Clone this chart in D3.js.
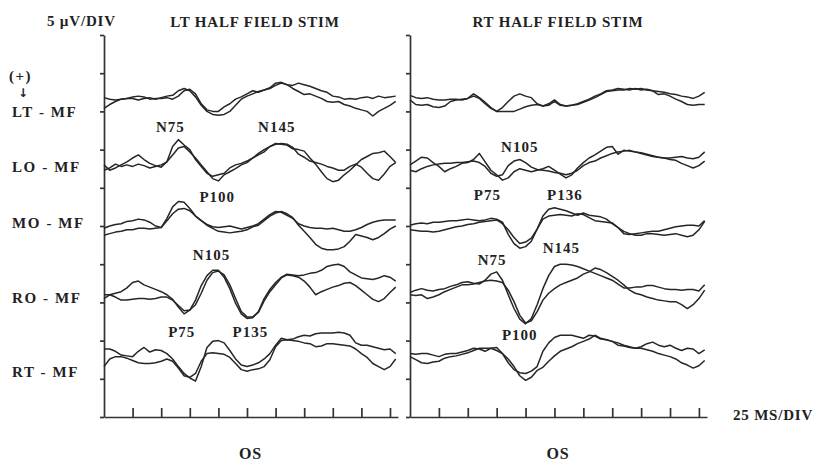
<!DOCTYPE html>
<html>
<head>
<meta charset="utf-8">
<script src="https://cdn.jsdelivr.net/npm/d3@7"></script>
<style>
  body { margin: 0; background: #fff; }
  svg text { font-family: "Liberation Serif", "DejaVu Serif", serif; font-weight: bold; fill: #222; letter-spacing: 0.8px; }
</style>
</head>
<body>
<svg width="817" height="465"></svg>
<script>
// VEP traces, 5 ms sampling, deflection in µV (positive plotted downward)
var channels = ["LT - MF", "LO - MF", "MO - MF", "RO - MF", "RT - MF"];
var panels = ["LT HALF FIELD STIM", "RT HALF FIELD STIM"];
var sampleMs = 5;

var leftLT1 = [-0.8,-0.6,-0.5,-0.6,-0.7,-0.9,-1.0,-0.9,-0.6,-0.7,-0.7,-0.8,-0.6,-1.0,-1.7,-1.9,-1.3,0,0.8,1.0,1.0,0.4,0,-0.6,-0.9,-1.3,-1.7,-1.5,-1.8,-2.0,-2.4,-2.7,-2.5,-2.4,-2.7,-2.5,-2.3,-2.0,-1.7,-1.5,-1.0,-0.9,-0.6,-0.7,-0.6,-0.8,-0.9,-0.7,-1.0,-0.8,-0.9,-1.0];
var leftLT2 = [0.6,0.1,-0.3,-0.6,-0.7,-0.7,-0.5,-0.7,-0.8,-0.6,-0.8,-1.0,-1.1,-1.7,-2.0,-1.7,-0.9,0.2,1.0,1.4,1.5,1.4,1.0,0.2,-0.6,-1.0,-1.3,-1.6,-1.8,-2.1,-2.7,-2.8,-2.5,-2.0,-1.6,-1.2,-1.3,-1.0,-0.7,-0.3,-0.2,-0.3,0.1,0.3,0.6,0.8,1.0,1.6,1.0,0.6,0.2,-0.3];
var leftLO1 = [0,0.7,0.4,0,-0.4,-0.9,-1.3,-0.7,-0.2,0.1,0.3,-0.4,-2.4,-3.3,-2.6,-2.0,-0.7,0.2,1.1,1.5,1.3,1.1,0.4,0,-0.2,-0.5,-0.9,-1.5,-2.0,-2.4,-2.7,-2.8,-2.7,-2.3,-1.4,-1.0,-0.5,-0.3,-0.1,0.2,0.4,0.7,0.7,0.2,-0.1,0.3,1.1,1.8,2.0,1.2,0.2,-0.3];
var leftLO2 = [0.7,0.4,-0.1,0.2,0,0.2,-0.1,0.1,0.4,0.2,0,-0.4,-1.3,-2.2,-2.4,-1.7,-0.9,0,0.9,1.8,2.1,1.3,0.9,0.5,0,-0.3,-0.9,-1.3,-1.7,-2.4,-2.8,-2.7,-2.6,-2.1,-2.0,-1.8,-0.9,-0.1,0.9,1.8,2.2,2.0,1.3,0.7,0,-0.7,-1.1,-1.5,-1.6,-1.8,-1.1,-0.3];
var leftMO1 = [0.3,0,-0.2,-0.3,-0.6,-0.7,-0.9,-0.8,-0.5,0,0.2,-1.0,-2.5,-3.2,-3.1,-2.3,-1.3,-0.7,-0.2,0.1,0.2,0.1,0,0.2,0.4,0.2,0,-0.3,-0.9,-1.5,-1.9,-1.8,-1.4,-1.0,-0.3,0,0.2,0.3,0.3,0.4,0.3,0.5,0.7,0.7,0.5,0.2,-0.2,-0.5,-0.7,-0.8,-0.8,-0.8];
var leftMO2 = [1.2,1.0,0.8,0.7,0.5,0.5,0.3,0.3,0.4,0.3,0.2,-0.7,-1.6,-2.2,-2.3,-2.0,-1.3,-0.7,-0.1,0.3,0.7,0.8,0.9,0.8,0.7,0.5,0.1,-0.1,-0.7,-1.3,-1.7,-1.9,-1.6,-1.1,-0.1,0.7,1.5,2.4,2.9,3.1,3.1,3.0,2.7,2.0,1.1,1.3,1.5,1.8,1.5,1.0,0.4,0];
var leftRO1 = [0,0,-0.2,-0.4,-0.9,-1.6,-1.8,-1.3,-1.0,-0.7,-0.4,0,0.6,1.6,2.5,2.0,0.7,-1.2,-2.5,-3.2,-3.2,-2.3,-0.8,1.1,2.5,3.1,3.0,2.2,0.5,-0.7,-1.6,-2.3,-2.7,-2.6,-2.5,-2.6,-2.8,-2.9,-3.2,-3.7,-3.9,-4.0,-3.7,-3.0,-2.6,-2.2,-2.1,-2.0,-2.2,-2.5,-2.3,-1.8];
var leftRO2 = [0.5,0,0.3,0.7,0.7,0.6,0.5,0.5,0.6,0.5,0.3,0.3,0.7,1.4,2.1,2.0,1.3,-0.2,-1.9,-2.9,-3.1,-2.6,-1.3,0.5,2.2,2.9,2.9,2.3,0.8,-0.4,-1.3,-2.2,-2.6,-2.5,-2.3,-1.8,-1.0,0,-0.4,-0.7,-1.0,-1.2,-1.5,-1.6,-1.2,-0.6,0,0.6,0.9,0.5,-0.3,-1.0];
var leftRT1 = [-0.9,-0.9,-0.6,-0.1,0,0.1,-0.6,-1.1,-0.5,-0.8,-0.7,-0.3,0.4,1.4,2.3,2.9,3.3,1.4,-1.1,-1.9,-2.0,-1.7,-0.7,0.4,1.2,1.4,1.2,0.9,0.4,-0.3,-1.4,-2.3,-2.1,-2.2,-2.5,-2.7,-2.6,-2.9,-3.0,-3.0,-3.0,-3.1,-3.0,-2.7,-1.7,-1.4,-1.4,-1.2,-1.0,-0.8,-0.9,-0.3];
var leftRT2 = [1.4,0.4,0.1,0.1,0.3,0.6,0.9,1.0,1.0,0.9,0.7,0.4,0.7,1.6,2.6,2.8,2.3,0.7,-0.3,-0.4,-0.3,-0.2,0.2,1.0,1.8,2.0,1.8,1.7,1.4,0.5,-1.2,-2.0,-2.1,-2.0,-1.9,-1.7,-1.6,-1.2,-1.3,-1.6,-1.6,-1.5,-1.4,-1.3,-0.9,-0.3,0.2,1.0,1.4,1.8,1.4,0.4];

var rightLT1 = [-1.1,-0.8,-0.7,-0.8,-0.6,-0.5,-0.5,-0.6,-0.6,-0.5,-0.7,-1.3,-0.8,-0.2,0.5,1.0,0.5,-0.3,-1.0,-1.3,-1.0,-0.8,0,0.3,0.2,-0.3,0.2,0.3,0.2,0.1,-0.2,-0.5,-0.8,-1.2,-1.6,-1.7,-1.8,-1.8,-2.0,-1.9,-2.0,-1.8,-1.7,-1.6,-1.5,-1.3,-1.2,-1.0,-0.9,-0.7,-1.0,-1.5];
var rightLT2 = [-0.5,0.1,0.2,0.1,0.4,0.5,0.3,-0.3,-0.5,-0.6,-0.7,-1.0,-0.7,0,0.6,1.0,1.0,1.0,1.0,0.7,0.4,0.2,0.1,0.3,0,-0.5,0.1,0.3,0.2,0,-0.3,-0.6,-1.0,-1.3,-1.7,-1.8,-2.0,-1.9,-1.8,-2.0,-1.8,-1.9,-1.7,-1.2,-1.3,-1.0,-0.6,-0.3,0.1,0.2,0.1,0.1];
var rightLO1 = [0,-0.5,-1.0,-0.9,-0.3,0.2,0.9,0.5,0.2,-0.2,-0.3,-0.7,-1.5,-0.4,0.7,1.3,2.0,1.7,0.9,0.5,0.7,0.9,0.7,0.5,0.2,0.7,1.2,1.7,1.3,0.4,-0.3,-0.9,-1.3,-1.8,-2.3,-2.4,-1.4,-1.9,-1.8,-1.7,-1.5,-1.3,-1.1,-1.0,-0.9,-0.9,-1.0,-1.1,-0.9,-0.8,-1.0,-1.7];
var rightLO2 = [0.7,0.9,0.5,0.2,0,-0.1,-0.2,-0.2,-0.3,-0.3,-0.4,-0.5,-0.3,0.2,1.1,1.5,1.3,0.1,-0.5,-0.7,-0.3,0.3,0.6,0.7,0.8,1.0,1.1,1.3,1.1,0.7,0.1,-0.3,-0.5,-0.9,-1.2,-1.5,-1.7,-1.8,-1.9,-1.7,-1.6,-1.4,-1.2,-1.0,-0.9,-0.7,-0.6,-0.2,0.1,0.4,0.1,-0.5];
var rightMO1 = [-0.1,-0.3,-0.4,-0.3,-0.5,-0.5,-0.6,-0.7,-0.7,-0.8,-0.9,-0.8,-0.7,-0.8,-1.0,-0.9,-0.5,1.1,2.3,2.9,2.7,2.0,0.4,-1.3,-2.2,-2.4,-2.2,-2.0,-1.7,-1.4,-1.7,-1.4,-1.3,-1.2,-0.9,-0.3,0.2,1.0,1.1,1.0,0.9,0.8,0.7,0.7,0.5,0.3,0.1,0,-0.1,-0.1,0,-0.7];
var rightMO2 = [0.5,0.6,0.7,0.7,0.8,0.7,0.5,0.3,0.1,0,-0.2,-0.3,-0.5,-0.6,-0.7,-0.8,-0.3,0.5,1.5,2.3,2.1,1.6,0.4,-0.9,-1.3,-1.4,-1.5,-1.4,-1.3,-1.6,-1.5,-1.1,-0.7,-0.6,-0.5,-0.4,0.2,0.7,1.0,1.2,1.2,1.0,1.0,1.1,1.2,1.1,1.0,1.2,1.4,1.2,0.5,-0.6];
var rightRO1 = [-0.3,-0.6,-0.8,-0.6,-0.5,-0.7,-0.8,-1.1,-1.3,-1.6,-1.7,-1.5,-1.4,-1.9,-2.7,-3.0,-1.9,0,1.8,3.2,3.8,3.1,1.3,-0.8,-2.5,-3.7,-4.0,-4.0,-3.9,-3.7,-3.4,-3.1,-2.8,-2.5,-2.2,-1.9,-1.4,-0.9,-0.9,-1.0,-1.0,-1.2,-1.2,-1.0,-0.8,-0.7,-0.7,-0.6,-0.7,-0.7,-0.5,-1.3];
var rightRO2 = [0,0.1,0,0.5,0.3,0,-0.4,-0.7,-1.0,-1.3,-1.3,-1.4,-1.6,-1.8,-1.9,-1.8,-1.6,-0.6,0.9,2.7,3.7,3.4,2.2,0.7,-0.2,-0.8,-1.3,-1.6,-1.9,-2.2,-2.7,-3.0,-3.5,-3.3,-2.9,-2.4,-1.9,-1.3,-0.6,-0.2,0,0.3,0.5,0.7,0.8,0.9,0.9,1.3,1.8,1.3,0.5,-0.6];
var rightRT1 = [-0.3,-0.2,-0.3,-0.3,-0.1,0.1,-0.2,-0.3,-0.3,-0.5,-0.7,-1.0,-0.9,-0.6,-1.0,-1.1,-0.3,0.9,1.8,2.2,2.3,2.0,1.4,-0.6,-1.7,-2.4,-2.7,-2.7,-2.7,-2.5,-2.3,-2.7,-2.6,-2.2,-2.1,-1.9,-1.4,-1.3,-1.1,-1.0,-1.2,-1.6,-1.8,-1.4,-1.2,-1.4,-1.0,-0.7,-1.0,-0.9,-0.3,-0.8];
var rightRT2 = [0.1,0.5,0.9,1.0,0.8,0.7,0.3,0.1,0,-0.2,-0.4,-0.7,-1.0,-1.0,-1.0,-0.7,-0.3,0.4,1.4,2.6,3.2,2.8,1.9,1.5,0.7,0,-0.6,-0.9,-1.2,-1.6,-1.9,-2.2,-2.7,-2.3,-2.1,-1.9,-1.7,-1.4,-1.2,-1.0,-1.0,-0.8,-0.6,-0.3,-0.1,0.1,0.4,0.9,1.2,1.6,1.3,0.6];

// peak labels: [text, latency ms, vertical position µV]
var leftPeaks = [["N75", 58, 12.7], ["N145", 151, 12.7], ["P100", 99, 21.9], ["N105", 94, 29.5], ["P75", 68, 39.5], ["P135", 128, 39.5]];
var rightPeaks = [["N105", 95, 15.3], ["P75", 67, 21.6], ["P136", 134, 21.6], ["N75", 71, 30.1], ["N145", 131, 28.5], ["P100", 95, 39.9]];

var leftTraces = [[leftLT1, leftLT2], [leftLO1, leftLO2], [leftMO1, leftMO2], [leftRO1, leftRO2], [leftRT1, leftRT2]];
var rightTraces = [[rightLT1, rightLT2], [rightLO1, rightLO2], [rightMO1, rightMO2], [rightRO1, rightRO2], [rightRT1, rightRT2]];

var svg = d3.select("svg");
var baseline = [9, 17, 25, 34, 42]; // channel baselines in µV down the axis

var y = d3.scaleLinear().domain([0, 50]).range([35, 417]);
var xLeft = d3.scaleLinear().domain([0, 257]).range([104, 398]);
var xRight = d3.scaleLinear().domain([0, 257]).range([410, 707]);

function drawPanel(x, traces, peaks, title, titleX) {
  var g = svg.append("g");

  g.append("g")
    .attr("transform", "translate(" + x(0) + ",0)")
    .call(d3.axisLeft(y).tickValues(d3.range(0, 51, 5)).tickSize(4).tickSizeOuter(0).tickFormat(""))
    .call(a => a.selectAll("path,line").attr("stroke", "#333").attr("stroke-width", 1.7));

  g.append("g")
    .attr("transform", "translate(0," + y(50) + ")")
    .call(d3.axisBottom(x).tickValues(d3.range(25, 251, 25)).tickSizeInner(-9).tickSizeOuter(0).tickFormat(""))
    .call(a => a.selectAll("path,line").attr("stroke", "#333").attr("stroke-width", 1.7));

  traces.forEach(function (pair, c) {
    var line = d3.line()
      .x((d, i) => x(i * sampleMs))
      .y(d => y(baseline[c] + d));
    g.selectAll(null)
      .data(pair)
      .enter()
      .append("path")
      .attr("d", line)
      .attr("fill", "none")
      .attr("stroke", "#262626")
      .attr("stroke-width", 1.5)
      .attr("stroke-linejoin", "round");
  });

  g.selectAll(null)
    .data(peaks)
    .enter()
    .append("text")
    .attr("x", d => x(d[1]))
    .attr("y", d => y(d[2]))
    .attr("text-anchor", "middle")
    .attr("font-size", 15)
    .style("letter-spacing", "1px")
    .text(d => d[0]);

  g.append("text")
    .attr("x", titleX)
    .attr("y", 27)
    .attr("text-anchor", "middle")
    .attr("font-size", 15)
    .text(title);

  g.append("text")
    .attr("x", x(128))
    .attr("y", 459)
    .attr("text-anchor", "middle")
    .attr("font-size", 16)
    .text("OS");
}

drawPanel(xLeft, leftTraces, leftPeaks, panels[0], 255);
drawPanel(xRight, rightTraces, rightPeaks, panels[1], 558);

svg.append("text").attr("x", 47).attr("y", 26).attr("font-size", 15).text("5 µV/DIV");
svg.append("text").attr("x", 9).attr("y", 81).attr("font-size", 15).style("letter-spacing", "1.5px").text("(+)");
svg.append("text").attr("x", 18).attr("y", 97).attr("font-size", 12)
  .style("font-family", "DejaVu Sans").text("↓");
svg.append("text").attr("x", 733).attr("y", 420).attr("font-size", 15).text("25 MS/DIV");

var labelY = [117, 172, 228, 303, 377];
svg.selectAll(".chan")
  .data(channels)
  .enter()
  .append("text")
  .attr("class", "chan")
  .attr("x", 12)
  .attr("y", (d, i) => labelY[i])
  .attr("font-size", 15)
  .style("letter-spacing", "1.6px")
  .text(d => d);
</script>
</body>
</html>
